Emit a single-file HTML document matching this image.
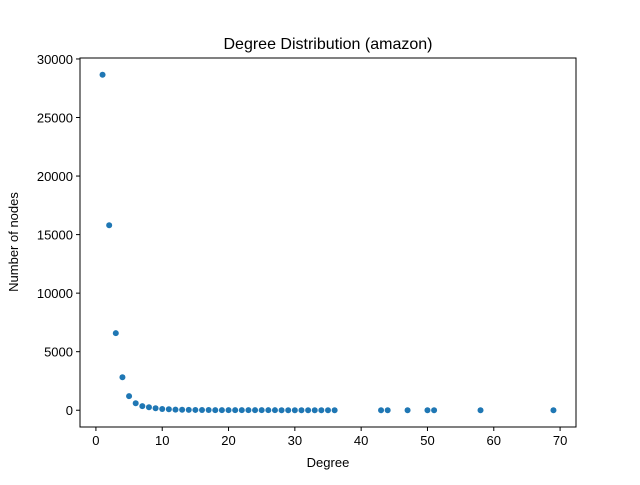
<!DOCTYPE html>
<html><head><meta charset="utf-8"><style>
body{margin:0;background:#fff;}
svg text{font-family:"Liberation Sans","DejaVu Sans",sans-serif;fill:#000;}
</style></head><body>
<svg id="chart" width="640" height="480" xmlns="http://www.w3.org/2000/svg">
<rect width="640" height="480" fill="#fff"/>
<text x="328" y="49" font-size="16" text-anchor="middle">Degree Distribution (amazon)</text>
<g id="marks"></g>
<g id="axes"></g>
<rect x="80" y="58" width="496" height="369" fill="none" stroke="#000" stroke-width="1"/>
<text x="328" y="467" font-size="13" text-anchor="middle">Degree</text>
<text transform="translate(18,242) rotate(-90)" font-size="13" text-anchor="middle">Number of nodes</text>
</svg>
<script>
const degrees=[1,2,3,4,5,6,7,8,9,10,11,12,13,14,15,16,17,18,19,20,21,22,23,24,25,26,27,28,29,30,31,32,33,34,35,36,43,44,47,50,51,58,69];
const counts=[28650,15800,6580,2820,1200,600,350,250,170,110,80,50,40,30,25,20,15,12,10,9,8,7,6,5,5,4,4,3,3,3,2,2,2,2,1,1,1,1,1,1,1,1,1];
const xTicks=[0,10,20,30,40,50,60,70];
const yTicks=[0,5000,10000,15000,20000,25000,30000];
const NS="http://www.w3.org/2000/svg";
const L=80,R=576,T=58,B=427;
const xMin=-2.4,xMax=72.4,yMin=-1432,yMax=30082;
function xs(v){return L+(v-xMin)/(xMax-xMin)*(R-L);}
function ys(v){return B-(v-yMin)/(yMax-yMin)*(B-T);}
const marks=document.getElementById('marks');
degrees.forEach((d,i)=>{
 const c=document.createElementNS(NS,'circle');
 c.setAttribute('cx',xs(d));c.setAttribute('cy',ys(counts[i]));c.setAttribute('r',3);c.setAttribute('fill','#1f77b4');
 
 
 marks.appendChild(c);
});
const axes=document.getElementById('axes');
xTicks.forEach(t=>{
 const x=xs(t);
 const l=document.createElementNS(NS,'line');
 l.setAttribute('x1',x);l.setAttribute('x2',x);l.setAttribute('y1',B);l.setAttribute('y2',B+4);l.setAttribute('stroke','#000');
 
 
 axes.appendChild(l);
 const tx=document.createElementNS(NS,'text');
 tx.setAttribute('x',x);tx.setAttribute('y',B+18);tx.setAttribute('font-size','13');tx.setAttribute('text-anchor','middle');tx.textContent=t;
 
 
 axes.appendChild(tx);
});
yTicks.forEach(t=>{
 const y=ys(t);
 const l=document.createElementNS(NS,'line');
 l.setAttribute('x1',L-4);l.setAttribute('x2',L);l.setAttribute('y1',y);l.setAttribute('y2',y);l.setAttribute('stroke','#000');
 
 
 axes.appendChild(l);
 const tx=document.createElementNS(NS,'text');
 tx.setAttribute('x',L-7);tx.setAttribute('y',y+5);tx.setAttribute('font-size','13');tx.setAttribute('text-anchor','end');tx.textContent=t;
 
 
 axes.appendChild(tx);
});
</script>
</body></html>
